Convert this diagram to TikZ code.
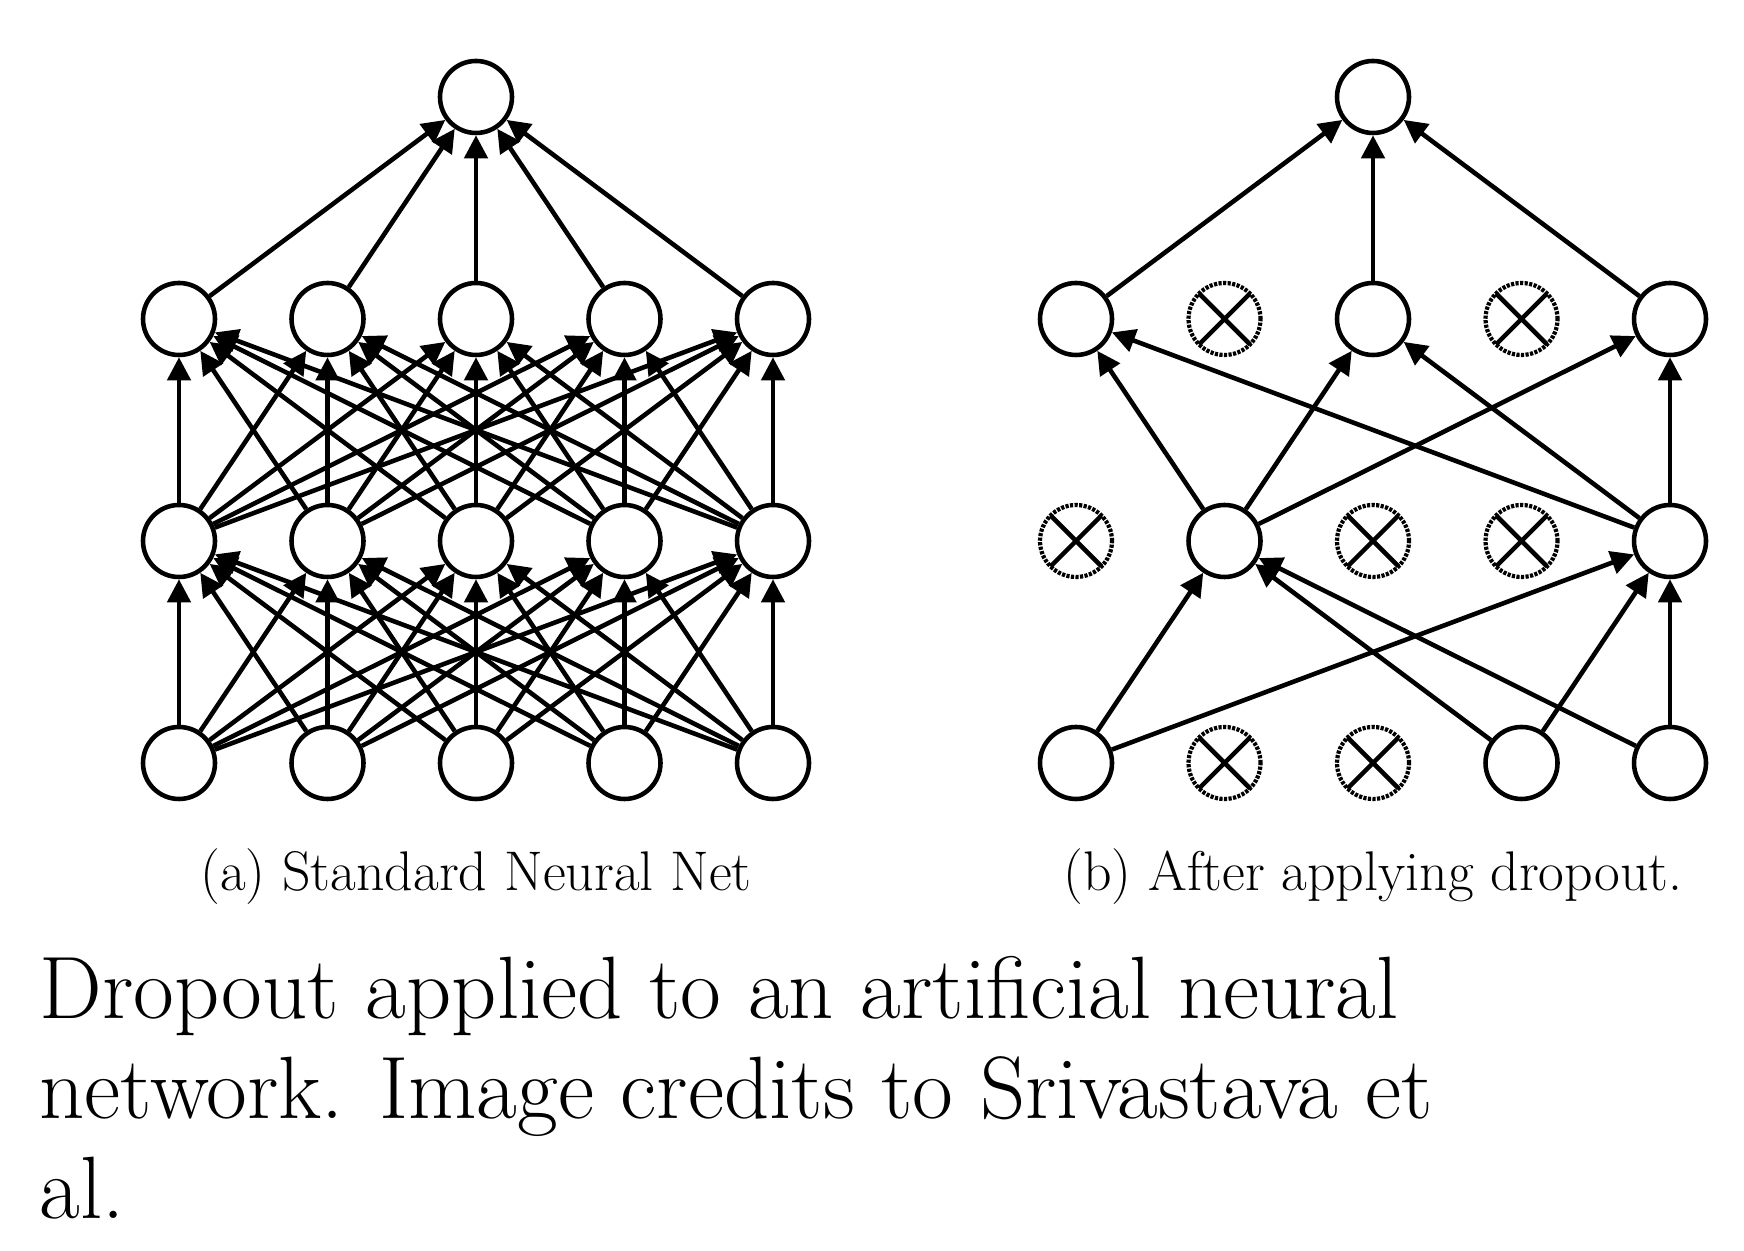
\documentclass[tikz,border=0pt]{standalone}
\usepackage{tikz}
\usetikzlibrary{arrows.meta}
\tikzstyle{unit} = [circle, 
minimum size=0.72cm, 
inner sep=0pt,
line width=1.3pt,
draw=black, 
fill=white]
\tikzstyle{dropped} = [circle, 
minimum size=0.72cm, 
inner sep=0pt,
line width=1.2pt,
draw=black, 
dash pattern=on 0.9pt off 0.4pt,
path picture={\draw[solid, line width=1.3pt] (path picture bounding box.north west) -- (path picture bounding box.south east) (path picture bounding box.north east) -- (path picture bounding box.south west);}]
\tikzstyle{arrow} = [line width=1.3pt,->,>={Triangle[length=6.6pt,width=6.6pt]}]
\tikzstyle{caption} = [anchor=base, inner sep=0pt, font=\fontsize{15.9}{19}\selectfont]
\tikzstyle{credit} = [anchor=base west, inner sep=0pt, align=left, font=\fontsize{25.2}{28.45}\selectfont]

\begin{document}
\begin{tikzpicture}[node distance=1.485cm]
\useasboundingbox (0,0) rectangle (17.44,12.5);
% standard net
\node (in1) [unit, xshift=1.79cm, yshift=4.87cm] {};
\node (in2) [unit, right of=in1] {};
\node (in3) [unit, right of=in2] {};
\node (in4) [unit, right of=in3] {};
\node (in5) [unit, right of=in4] {};
\node (ha1) [unit, above of=in1, yshift=0.735cm] {};
\node (ha2) [unit, right of=ha1] {};
\node (ha3) [unit, right of=ha2] {};
\node (ha4) [unit, right of=ha3] {};
\node (ha5) [unit, right of=ha4] {};
\node (hb1) [unit, above of=ha1, yshift=0.735cm] {};
\node (hb2) [unit, right of=hb1] {};
\node (hb3) [unit, right of=hb2] {};
\node (hb4) [unit, right of=hb3] {};
\node (hb5) [unit, right of=hb4] {};
\node (out) [unit, above of=hb3, yshift=0.735cm] {};
% thinned net
\node (din1) [unit, right of=in5, xshift=1.545cm] {};
\node (din2) [dropped, right of=din1] {};
\node (din3) [dropped, right of=din2] {};
\node (din4) [unit, right of=din3] {};
\node (din5) [unit, right of=din4] {};
\node (dha1) [dropped, above of=din1, yshift=0.735cm] {};
\node (dha2) [unit, right of=dha1] {};
\node (dha3) [dropped, right of=dha2] {};
\node (dha4) [dropped, right of=dha3] {};
\node (dha5) [unit, right of=dha4] {};
\node (dhb1) [unit, above of=dha1, yshift=0.735cm] {};
\node (dhb2) [dropped, right of=dhb1] {};
\node (dhb3) [unit, right of=dhb2] {};
\node (dhb4) [dropped, right of=dhb3] {};
\node (dhb5) [unit, right of=dhb4] {};
\node (dout) [unit, above of=dhb3, yshift=0.735cm] {};
\node (capa) [caption, below of=in3, yshift=0.345cm] {(a) Standard Neural Net};
\node (capb) [caption, below of=din3, yshift=0.345cm] {(b) After applying dropout.};
\node (note) [credit, xshift=0.39cm, yshift=0.32cm] {Dropout applied to an artificial neural\\network. Image credits to Srivastava et\\al.};

\draw [arrow] (in1) -- (ha1);
\draw [arrow] (in1) -- (ha2);
\draw [arrow] (in1) -- (ha3);
\draw [arrow] (in1) -- (ha4);
\draw [arrow] (in1) -- (ha5);
\draw [arrow] (in2) -- (ha1);
\draw [arrow] (in2) -- (ha2);
\draw [arrow] (in2) -- (ha3);
\draw [arrow] (in2) -- (ha4);
\draw [arrow] (in2) -- (ha5);
\draw [arrow] (in3) -- (ha1);
\draw [arrow] (in3) -- (ha2);
\draw [arrow] (in3) -- (ha3);
\draw [arrow] (in3) -- (ha4);
\draw [arrow] (in3) -- (ha5);
\draw [arrow] (in4) -- (ha1);
\draw [arrow] (in4) -- (ha2);
\draw [arrow] (in4) -- (ha3);
\draw [arrow] (in4) -- (ha4);
\draw [arrow] (in4) -- (ha5);
\draw [arrow] (in5) -- (ha1);
\draw [arrow] (in5) -- (ha2);
\draw [arrow] (in5) -- (ha3);
\draw [arrow] (in5) -- (ha4);
\draw [arrow] (in5) -- (ha5);
\draw [arrow] (ha1) -- (hb1);
\draw [arrow] (ha1) -- (hb2);
\draw [arrow] (ha1) -- (hb3);
\draw [arrow] (ha1) -- (hb4);
\draw [arrow] (ha1) -- (hb5);
\draw [arrow] (ha2) -- (hb1);
\draw [arrow] (ha2) -- (hb2);
\draw [arrow] (ha2) -- (hb3);
\draw [arrow] (ha2) -- (hb4);
\draw [arrow] (ha2) -- (hb5);
\draw [arrow] (ha3) -- (hb1);
\draw [arrow] (ha3) -- (hb2);
\draw [arrow] (ha3) -- (hb3);
\draw [arrow] (ha3) -- (hb4);
\draw [arrow] (ha3) -- (hb5);
\draw [arrow] (ha4) -- (hb1);
\draw [arrow] (ha4) -- (hb2);
\draw [arrow] (ha4) -- (hb3);
\draw [arrow] (ha4) -- (hb4);
\draw [arrow] (ha4) -- (hb5);
\draw [arrow] (ha5) -- (hb1);
\draw [arrow] (ha5) -- (hb2);
\draw [arrow] (ha5) -- (hb3);
\draw [arrow] (ha5) -- (hb4);
\draw [arrow] (ha5) -- (hb5);
\draw [arrow] (hb1) -- (out);
\draw [arrow] (hb2) -- (out);
\draw [arrow] (hb3) -- (out);
\draw [arrow] (hb4) -- (out);
\draw [arrow] (hb5) -- (out);

\draw [arrow] (din1) -- (dha2);
\draw [arrow] (din1) -- (dha5);
\draw [arrow] (din4) -- (dha2);
\draw [arrow] (din4) -- (dha5);
\draw [arrow] (din5) -- (dha2);
\draw [arrow] (din5) -- (dha5);
\draw [arrow] (dha2) -- (dhb1);
\draw [arrow] (dha2) -- (dhb3);
\draw [arrow] (dha2) -- (dhb5);
\draw [arrow] (dha5) -- (dhb1);
\draw [arrow] (dha5) -- (dhb3);
\draw [arrow] (dha5) -- (dhb5);
\draw [arrow] (dhb1) -- (dout);
\draw [arrow] (dhb3) -- (dout);
\draw [arrow] (dhb5) -- (dout);

\end{tikzpicture}
\end{document}
